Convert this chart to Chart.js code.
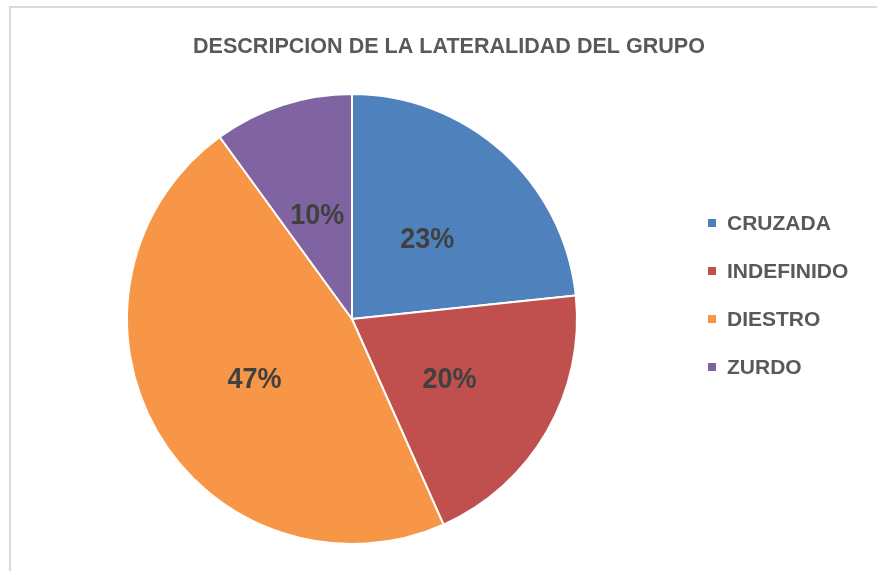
<!DOCTYPE html>
<html>
<head>
<meta charset="utf-8">
<script src="https://cdn.jsdelivr.net/npm/chart.js@4.4.1/dist/chart.umd.min.js"></script>
<style>
  html, body { margin: 0; padding: 0; background: #ffffff; }
  #wrap { position: relative; width: 877px; height: 571px; overflow: hidden; }
  #frame { position: absolute; left: 9px; top: 6px; width: 900px; height: 600px;
           border-left: 2px solid #d9d9d9; border-top: 2px solid #d9d9d9; box-sizing: border-box; }
  canvas { position: absolute; left: 0; top: 0; }
</style>
</head>
<body>
<div id="wrap">
  <div id="frame"></div>
  <canvas id="c" width="877" height="571"></canvas>
</div>
<script>
const chartTitle = "DESCRIPCION DE LA LATERALIDAD DEL GRUPO";
const categories = ["CRUZADA", "INDEFINIDO", "DIESTRO", "ZURDO"];
// group counts (labels show 23%, 20%, 47%, 10%)
const counts = [7, 6, 14, 3];
const sliceColors = ["#4F81BD", "#C0504D", "#F79646", "#8064A2"];

const overlayPlugin = {
  id: 'overlay',
  afterDatasetsDraw(chart) {
    const ctx = chart.ctx;
    const meta = chart.getDatasetMeta(0);
    const ds = chart.data.datasets[0];
    const total = ds.data.reduce((a, b) => a + b, 0);
    ctx.save();
    ctx.fillStyle = '#404040';
    ctx.font = 'bold 30px "Liberation Sans", Arial, sans-serif';
    ctx.textAlign = 'center';
    ctx.textBaseline = 'middle';
    meta.data.forEach((arc, i) => {
      const p = arc.getCenterPoint();
      ctx.save();
      ctx.translate(p.x, p.y + 4);
      ctx.scale(0.9, 1);
      ctx.fillText(Math.round(ds.data[i] / total * 100) + '%', 0, 0);
      ctx.restore();
    });
    ctx.restore();
  },
  afterDraw(chart) {
    const ctx = chart.ctx;
    ctx.save();
    ctx.fillStyle = '#595959';
    ctx.font = 'bold 22px "Liberation Sans", Arial, sans-serif';
    const t = chart.data.datasets[0].titleText;
    const w = ctx.measureText(t).width;
    ctx.textAlign = 'center';
    ctx.textBaseline = 'alphabetic';
    ctx.save();
    ctx.translate(449, 53);
    ctx.scale(512 / w, 1);
    ctx.fillText(t, 0, 0);
    ctx.restore();
    const labels = chart.data.labels;
    const cols = chart.data.datasets[0].backgroundColor;
    const ys = [223, 271, 319, 367];
    ctx.font = 'bold 21px "Liberation Sans", Arial, sans-serif';
    ctx.textAlign = 'left';
    ctx.textBaseline = 'middle';
    labels.forEach((lab, i) => {
      ctx.fillStyle = cols[i];
      ctx.fillRect(708, ys[i] - 4, 8, 8);
      ctx.fillStyle = '#595959';
      ctx.fillText(lab, 727, ys[i] + 1);
    });
    ctx.restore();
  }
};

new Chart(document.getElementById('c'), {
  type: 'pie',
  data: {
    labels: categories,
    datasets: [{
      data: counts,
      titleText: chartTitle,
      backgroundColor: sliceColors,
      borderColor: '#ffffff',
      borderWidth: 2
    }]
  },
  options: {
    responsive: false,
    animation: false,
    events: [],
    rotation: 0,
    layout: { padding: { left: 126, top: 93, right: 299, bottom: 26 } },
    plugins: {
      legend: { display: false },
      title: { display: false },
      tooltip: { enabled: false }
    }
  },
  plugins: [overlayPlugin]
});
</script>
</body>
</html>
